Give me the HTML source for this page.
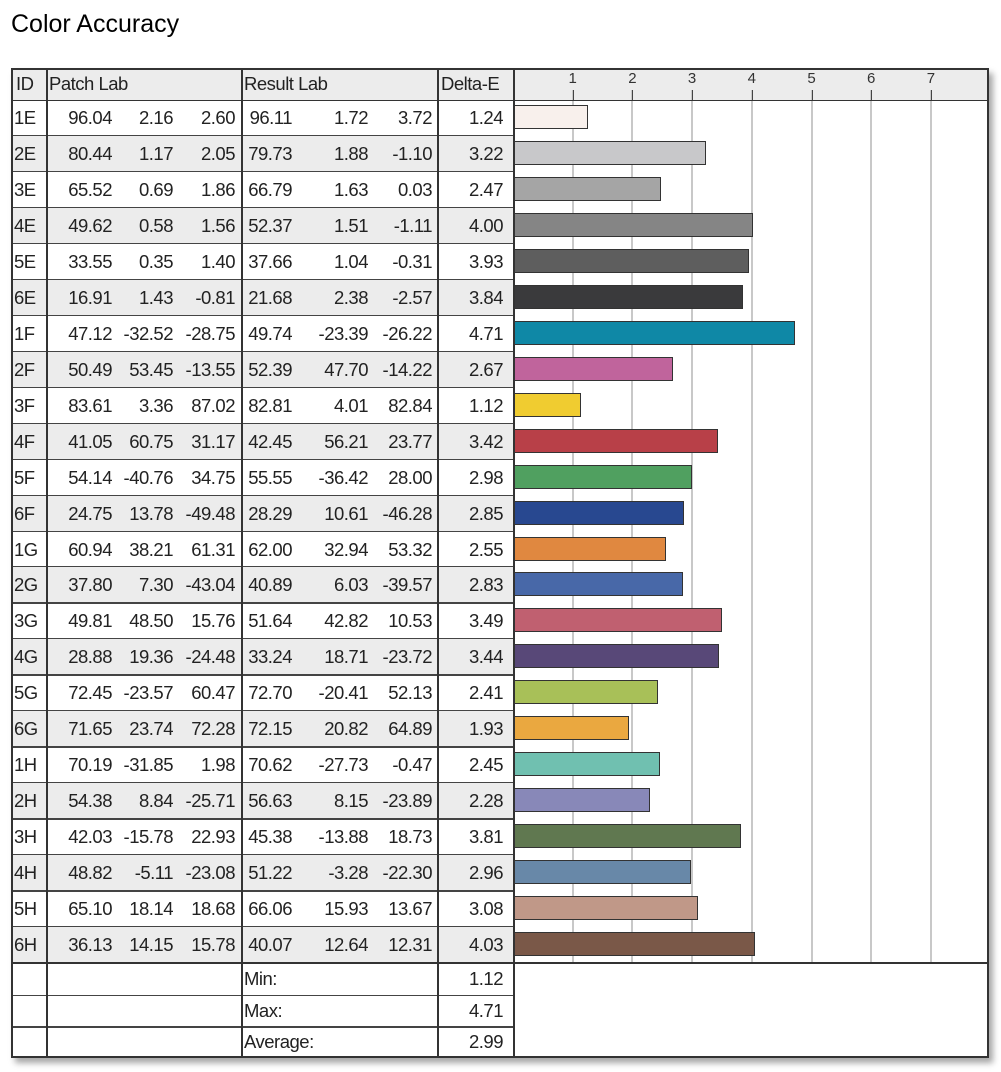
<!DOCTYPE html>
<html><head><meta charset="utf-8"><style>
body{margin:0;background:#fff;width:1001px;height:1072px;position:relative;overflow:hidden;font-family:"Liberation Sans",Arial,sans-serif;}
.a{position:absolute;}
.t{position:absolute;font-size:18.5px;color:#222;letter-spacing:-0.5px;line-height:36px;white-space:nowrap;}
</style></head><body>
<div class="a" style="left:11px;top:10px;font-size:25px;color:#000;">Color Accuracy</div>
<div class="a" style="left:11px;top:68px;width:978px;height:990px;border:2px solid #333;box-sizing:border-box;box-shadow:4px 5px 6px rgba(0,0,0,0.35);background:#fff;"></div>
<div id="c"></div>
<script>
(function(){
var rows=[
["1E","96.04","2.16","2.60","96.11","1.72","3.72","1.24","#f8f0ec"],
["2E","80.44","1.17","2.05","79.73","1.88","-1.10","3.22","#c8c8ca"],
["3E","65.52","0.69","1.86","66.79","1.63","0.03","2.47","#a5a5a5"],
["4E","49.62","0.58","1.56","52.37","1.51","-1.11","4.00","#858585"],
["5E","33.55","0.35","1.40","37.66","1.04","-0.31","3.93","#5e5e5e"],
["6E","16.91","1.43","-0.81","21.68","2.38","-2.57","3.84","#3a3a3c"],
["1F","47.12","-32.52","-28.75","49.74","-23.39","-26.22","4.71","#0f88a6"],
["2F","50.49","53.45","-13.55","52.39","47.70","-14.22","2.67","#c0649c"],
["3F","83.61","3.36","87.02","82.81","4.01","82.84","1.12","#f0cc30"],
["4F","41.05","60.75","31.17","42.45","56.21","23.77","3.42","#b84048"],
["5F","54.14","-40.76","34.75","55.55","-36.42","28.00","2.98","#50a060"],
["6F","24.75","13.78","-49.48","28.29","10.61","-46.28","2.85","#284890"],
["1G","60.94","38.21","61.31","62.00","32.94","53.32","2.55","#e08840"],
["2G","37.80","7.30","-43.04","40.89","6.03","-39.57","2.83","#4868a8"],
["3G","49.81","48.50","15.76","51.64","42.82","10.53","3.49","#c06070"],
["4G","28.88","19.36","-24.48","33.24","18.71","-23.72","3.44","#584878"],
["5G","72.45","-23.57","60.47","72.70","-20.41","52.13","2.41","#a8c058"],
["6G","71.65","23.74","72.28","72.15","20.82","64.89","1.93","#eaa840"],
["1H","70.19","-31.85","1.98","70.62","-27.73","-0.47","2.45","#70c0b0"],
["2H","54.38","8.84","-25.71","56.63","8.15","-23.89","2.28","#8888b8"],
["3H","42.03","-15.78","22.93","45.38","-13.88","18.73","3.81","#607850"],
["4H","48.82","-5.11","-23.08","51.22","-3.28","-22.30","2.96","#6888a8"],
["5H","65.10","18.14","18.68","66.06","15.93","13.67","3.08","#c09888"],
["6H","36.13","14.15","15.78","40.07","12.64","12.31","4.03","#7a5848"]];
var h="";
function box(l,t,w,hh,s){h+='<div class="a" style="left:'+l+'px;top:'+t+'px;width:'+w+'px;height:'+hh+'px;'+s+'"></div>';}
function txt(s,x,y,right){h+='<div class="t" style="'+(right?'right:'+(1001-x)+'px':'left:'+x+'px')+';top:'+y+'px;">'+s+'</div>';}
box(13,70,974,30,"background:#ececec;");
txt("ID",16,66);txt("Patch Lab",49,66);txt("Result Lab",244,66);txt("Delta-E",441,66);
var x0=513,u=59.7;
for(var k=1;k<=7;k++){var gx=x0+k*u;
 h+='<div class="a" style="left:'+(gx-8)+'px;top:70px;width:16px;text-align:center;font-size:15px;color:#333;">'+k+'</div>';
 box(gx-1,90,2,873,"background:#c8c8c8;");
 box(gx,90,1,10,"background:#444;");}
box(13,100,974,1,"background:#333;");
var t0=100,rh=35.96;
for(var i=0;i<24;i++){var r=rows[i],yy=t0+i*rh;
 if(i%2==1)box(13,yy,500,rh,"background:#ececec;");
 box(13,yy+rh-1,500,1.5,"background:#444;");
 txt(r[0],14,yy);
 txt(r[1],112,yy,1);txt(r[2],173,yy,1);txt(r[3],235,yy,1);
 txt(r[4],292,yy,1);txt(r[5],368,yy,1);txt(r[6],432,yy,1);
 txt(r[7],503,yy,1);
 var w=parseFloat(r[7])*u;
 box(514,yy+5,w,24,"background:"+r[8]+";border:1.5px solid #333;box-sizing:border-box;");
}
var fy=t0+24*rh;
box(13,fy-1,974,2,"background:#333;");
var lab=[["Min:","1.12"],["Max:","4.71"],["Average:","2.99"]];
for(var j=0;j<3;j++){var yy=fy+j*31.7;
 h+='<div class="t" style="left:244px;top:'+(yy-2)+'px;">'+lab[j][0]+'</div>';
 h+='<div class="t" style="right:'+(1001-503)+'px;top:'+(yy-2)+'px;">'+lab[j][1]+'</div>';
 if(j<2)box(13,yy+31.7,500,1.5,"background:#444;");}
[46,241,437,513].forEach(function(x){box(x,70,2,986,"background:#333;");});
document.getElementById("c").innerHTML=h;
})();
</script>
</body></html>
